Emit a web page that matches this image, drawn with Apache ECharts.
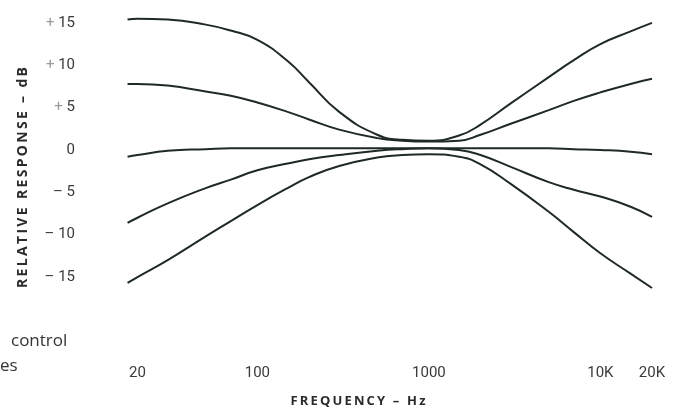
<!DOCTYPE html>
<html lang="en">
<head>
    <meta charset="UTF-8">
    <style>
        html, body { margin: 0; padding: 0; background: #fff; }
        #main { width: 679px; height: 413px; }
    </style>
    <script src="https://cdn.jsdelivr.net/npm/echarts@6/dist/echarts.min.js"></script>
    <title>Tone control curves</title>
</head>
<body>
    <div id="main"></div>
    <script>
        // frequencies in Hz, response in dB
        var freqs = [17.5, 20, 30, 50, 70, 100, 150, 200, 300, 500, 700, 1000, 1500, 2000, 3000, 5000, 7000, 10000, 15000, 20000];
        var maxBoost  = [15.4, 15.5, 15.4, 14.8, 14.1, 13.0, 10.5, 8.0, 4.5, 1.8, 1.2, 1.1, 1.7, 3.0, 5.5, 8.6, 10.6, 12.5, 14.0, 15.0];
        var halfBoost = [7.8, 7.8, 7.6, 6.9, 6.4, 5.6, 4.5, 3.6, 2.4, 1.4, 1.1, 1.0, 1.1, 1.8, 3.1, 4.7, 5.8, 6.8, 7.8, 8.4];
        var flat      = [-0.8, -0.6, -0.1, 0.1, 0.2, 0.2, 0.2, 0.2, 0.2, 0.2, 0.2, 0.2, 0.2, 0.2, 0.2, 0.2, 0.1, 0.0, -0.2, -0.5];
        var halfCut   = [-8.6, -8.0, -6.3, -4.5, -3.5, -2.4, -1.6, -1.1, -0.6, -0.1, 0.1, 0.2, 0.0, -0.6, -2.0, -3.8, -4.7, -5.5, -6.7, -7.9];
        var maxCut    = [-15.7, -15.0, -13.0, -10.2, -8.4, -6.5, -4.5, -3.2, -1.9, -0.9, -0.6, -0.5, -0.8, -1.7, -4.0, -7.3, -9.7, -12.2, -14.6, -16.3];

        var xTicks = [20, 100, 1000, 10000, 20000];
        var xTickLabels = ['20', '100', '1000', '10K', '20K'];
        var yTicks = [-15, -10, -5, 0, 5, 10, 15];

        var log = function (f) { return Math.log10(f); };
        function pairs(vals) {
            return freqs.map(function (f, i) { return [log(f), vals[i]]; });
        }
        // the scanned axis titles are widely letter-spaced
        function spaced(s) { return s.split('').join('\u2009'); }

        var labelFont = "Roboto, sans-serif";
        var lineColor = '#1f2a26';

        var myChart = echarts.init(document.getElementById('main'));
        var option = {
            animation: false,
            grid: { left: 127, right: 24, top: 6, bottom: 64 },
            xAxis: {
                type: 'value',
                min: 1.2398,
                max: 4.3185,
                name: spaced('FREQUENCY – Hz'),
                nameLocation: 'middle',
                nameGap: 46,
                nameTextStyle: {
                    fontFamily: "'Open Sans', sans-serif",
                    fontWeight: 'bold',
                    fontSize: 13,
                    color: '#2b2b2b',
                    padding: [0, 66, 0, 0]
                },
                axisLine: { show: false },
                axisTick: { show: false },
                splitLine: { show: false },
                axisLabel: {
                    customValues: xTicks.map(log),
                    margin: 17,
                    fontFamily: labelFont,
                    fontSize: 15,
                    color: '#3a3a3a',
                    formatter: function (v) {
                        var i = xTicks.findIndex(function (t) { return Math.abs(log(t) - v) < 1e-6; });
                        return i >= 0 ? xTickLabels[i] : '';
                    }
                }
            },
            yAxis: {
                type: 'value',
                min: -23.5,
                max: 17,
                name: spaced('RELATIVE RESPONSE – dB'),
                nameLocation: 'middle',
                nameGap: 97,
                nameTextStyle: {
                    fontFamily: "'Open Sans', sans-serif",
                    fontWeight: 'bold',
                    fontSize: 14,
                    color: '#2b2b2b'
                },
                axisLine: { show: false },
                axisTick: { show: false },
                splitLine: { show: false },
                axisLabel: {
                    customValues: yTicks,
                    margin: 52,
                    fontFamily: labelFont,
                    fontSize: 15,
                    color: '#3a3a3a',
                    formatter: function (v) {
                        if (v > 0) return '{p|+} ' + v;
                        if (v < 0) return '– ' + Math.abs(v);
                        return '0';
                    },
                    rich: {
                        p: { color: '#9a9a9a', fontFamily: labelFont, fontSize: 15 }
                    }
                }
            },
            graphic: [{
                type: 'text',
                left: 11,
                top: 333,
                style: { text: 'control', font: "17px 'Open Sans', sans-serif", fill: '#333' }
            }, {
                type: 'text',
                left: 0,
                top: 358,
                style: { text: 'es', font: "17px 'Open Sans', sans-serif", fill: '#333' }
            }],
            series: [maxBoost, halfBoost, flat, halfCut, maxCut].map(function (vals) {
                return {
                    type: 'line',
                    smooth: 0.5,
                    symbol: 'none',
                    lineStyle: { color: lineColor, width: 2 },
                    data: pairs(vals)
                };
            })
        };
        myChart.setOption(option);
    </script>
</body>
</html>
